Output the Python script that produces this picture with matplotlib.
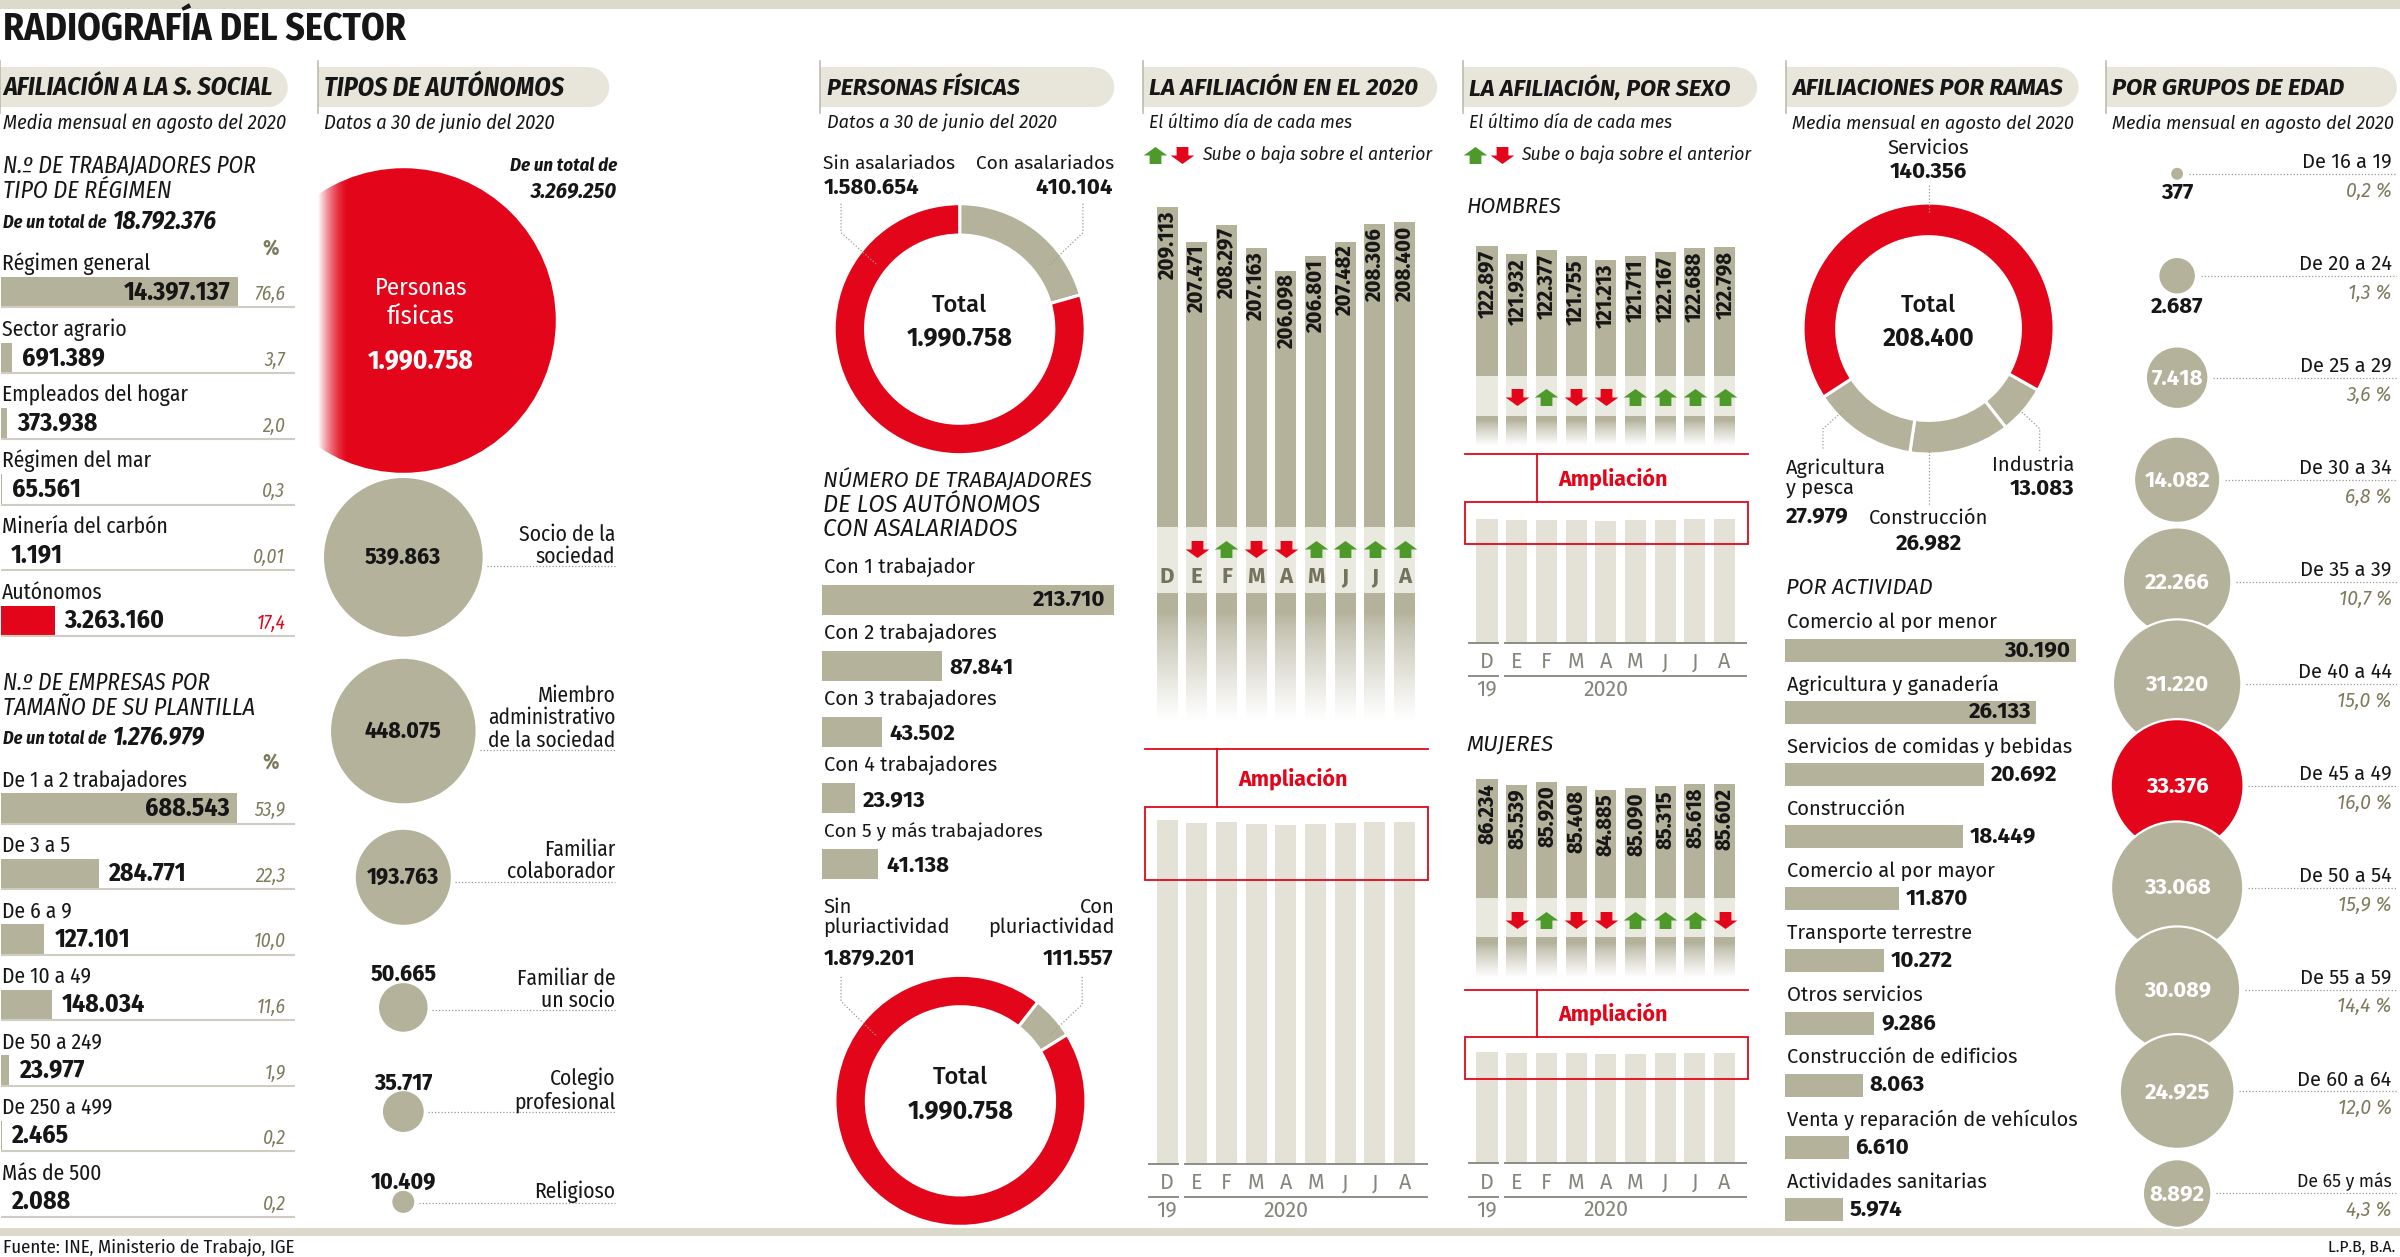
import numpy as np
import matplotlib
matplotlib.use('Agg')
import matplotlib.pyplot as plt
from matplotlib import font_manager
from matplotlib.path import Path
from matplotlib.patches import Rectangle, Circle

# ---------------- datos ----------------
regimen_labels = ['Régimen general', 'Sector agrario', 'Empleados del hogar',
                  'Régimen del mar', 'Minería del carbón', 'Autónomos']
regimen_values = [14397137, 691389, 373938, 65561, 1191, 3263160]
regimen_pct = ['76,6', '3,7', '2,0', '0,3', '0,01', '17,4']
regimen_total = '18.792.376'

plantilla_labels = ['De 1 a 2 trabajadores', 'De 3 a 5', 'De 6 a 9', 'De 10 a 49',
                    'De 50 a 249', 'De 250 a 499', 'Más de 500']
plantilla_values = [688543, 284771, 127101, 148034, 23977, 2465, 2088]
plantilla_pct = ['53,9', '22,3', '10,0', '11,6', '1,9', '0,2', '0,2']
plantilla_total = '1.276.979'

personas_fisicas = 1990758
autonomos_total = '3.269.250'
tipos_labels = ['Socio de la\nsociedad', 'Miembro\nadministrativo\nde la sociedad',
                'Familiar\ncolaborador', 'Familiar de\nun socio', 'Colegio\nprofesional', 'Religioso']
tipos_values = [539863, 448075, 193763, 50665, 35717, 10409]

asalariados_labels = ['Sin asalariados', 'Con asalariados']
asalariados_values = [1580654, 410104]
trabajadores_labels = ['Con 1 trabajador', 'Con 2 trabajadores', 'Con 3 trabajadores',
                       'Con 4 trabajadores', 'Con 5 y más trabajadores']
trabajadores_values = [213710, 87841, 43502, 23913, 41138]
pluri_labels = ['Sin\npluriactividad', 'Con\npluriactividad']
pluri_values = [1879201, 111557]

meses = ['D', 'E', 'F', 'M', 'A', 'M', 'J', 'J', 'A']
afil_total = [209113, 207471, 208297, 207163, 206098, 206801, 207482, 208306, 208400]
afil_hombres = [122897, 121932, 122377, 121755, 121213, 121711, 122167, 122688, 122798]
afil_mujeres = [86234, 85539, 85920, 85408, 84885, 85090, 85315, 85618, 85602]

ramas_labels = ['Industria', 'Construcción', 'Agricultura\ny pesca', 'Servicios']
ramas_values = [13083, 26982, 27979, 140356]
actividad_labels = ['Comercio al por menor', 'Agricultura y ganadería', 'Servicios de comidas y bebidas',
                    'Construcción', 'Comercio al por mayor', 'Transporte terrestre', 'Otros servicios',
                    'Construcción de edificios', 'Venta y reparación de vehículos', 'Actividades sanitarias']
actividad_values = [30190, 26133, 20692, 18449, 11870, 10272, 9286, 8063, 6610, 5974]

edad_labels = ['De 16 a 19', 'De 20 a 24', 'De 25 a 29', 'De 30 a 34', 'De 35 a 39', 'De 40 a 44',
               'De 45 a 49', 'De 50 a 54', 'De 55 a 59', 'De 60 a 64', 'De 65 y más']
edad_values = [377, 2687, 7418, 14082, 22266, 31220, 33376, 33068, 30089, 24925, 8892]
edad_pct = ['0,2 %', '1,3 %', '3,6 %', '6,8 %', '10,7 %', '15,0 %', '16,0 %', '15,9 %',
            '14,4 %', '12,0 %', '4,3 %']

# posiciones de los círculos de tipos (maqueta)
tipos_y = [364, 477.5, 573, 658, 726, 785]
tipos_gap = [6, 12.5, 3, 2, 0.5, 0.5]

# ---------------- estilo ----------------
RED = '#e3061a'
GRAY = '#b5b29c'
LIGHT = '#e4e2d6'
BANDCOL = '#eae9e0'
PILL = '#e8e6db'
BAND = '#dcdacb'
OLIVE = '#7e7b5d'
RULE = '#cfcdc0'
INK = '#161616'
GREEN = '#4d9a2a'
MONTH = '#76735d'
AXGRAY = '#86857c'
DOT = '#9a9a90'

names = {f.name for f in font_manager.fontManager.ttflist}


def pick(*cands):
    for c in cands:
        if c in names:
            return c
    return 'DejaVu Sans'


SANS = pick('Fira Sans', 'Open Sans', 'Lato')
COND = pick('Fira Sans Condensed', 'Encode Sans Semi Condensed', 'Open Sans Condensed', SANS)
plt.rcParams['font.family'] = [SANS, 'DejaVu Sans']
FC = [COND, 'DejaVu Sans']

W, H = 1568, 821          # rejilla de referencia
SX = 2400 / W              # px reales por px de referencia
PT = SX * 0.72             # puntos por px de referencia

fig = plt.figure(figsize=(24, 12.57), dpi=100)
R = fig.canvas.get_renderer()


def box(x, y, w, h, z=1):
    ax = fig.add_axes([x / W, 1 - (y + h) / H, w / W, h / H], zorder=z)
    ax.set_axis_off()
    return ax


def canvas(z):
    ax = box(0, 0, W, H, z)
    ax.set_xlim(0, W)
    ax.set_ylim(H, 0)
    return ax


bg = canvas(0)
top = canvas(10)


def fit(t, width):
    if width:
        w = t.get_window_extent(renderer=R).width / SX
        if w > width:
            t.set_fontsize(t.get_fontsize() * width / w)
    return t


def txt(x, y, s, size, width=None, ax=None, **kw):
    kw.setdefault('va', 'center')
    kw.setdefault('color', INK)
    t = (ax or top).text(x, y, s, fontsize=size, **kw)
    return fit(t, width)


def ann(ax, s, xy, dx=0, dy=0, size=13, width=None, **kw):
    kw.setdefault('va', 'center')
    kw.setdefault('color', INK)
    t = ax.annotate(s, xy, xytext=(dx * PT, -dy * PT), textcoords='offset points',
                    fontsize=size, annotation_clip=False, **kw)
    return fit(t, width)


def fmt(v):
    return f'{v:,}'.replace(',', '.')


def arrow_marker(up=True):
    v = [(-0.5, -0.72), (0.5, -0.72), (0.5, 0), (1, 0), (0, 0.72), (-1, 0), (-0.5, 0), (-0.5, -0.72)]
    if not up:
        v = [(a, -b) for a, b in v]
    return Path(v, [Path.MOVETO] + [Path.LINETO] * 6 + [Path.CLOSEPOLY])


UP, DOWN = arrow_marker(True), arrow_marker(False)
ARROW_S = 17 ** 2

# ---------------- cabecera y pie ----------------
bg.add_patch(Rectangle((0, 0), W, 6, color=BAND, lw=0))
bg.add_patch(Rectangle((0, 802), W, 5, color=BAND, lw=0))
txt(2, 20, 'RADIOGRAFÍA DEL SECTOR', 28, 263, weight='bold', family=FC)
txt(2, 814.5, 'Fuente: INE, Ministerio de Trabajo, IGE', 13.5, 192, family=FC)
txt(1565, 814.5, 'L.P.B, B.A.', 12.5, 46, ha='right', family=FC)

headings = [(0, 188, 'AFILIACIÓN A LA S. SOCIAL', 'Media mensual en agosto del 2020', 176, 185, FC),
            (208, 398, 'TIPOS DE AUTÓNOMOS', 'Datos a 30 de junio del 2020', 157, 151, FC),
            (536, 728, 'PERSONAS FÍSICAS', 'Datos a 30 de junio del 2020', 126, 150, None),
            (747, 939, 'LA AFILIACIÓN EN EL 2020', 'El último día de cada mes', 176, 133, None),
            (956, 1148, 'LA AFILIACIÓN, POR SEXO', 'El último día de cada mes', 171, 133, None),
            (1167, 1358, 'AFILIACIONES POR RAMAS', 'Media mensual en agosto del 2020', 177, 184, None),
            (1376, 1566, 'POR GRUPOS DE EDAD', 'Media mensual en agosto del 2020', 152, 184, None)]
for x0, x1, head, sub, hw, sw, fam in headings:
    bg.add_patch(Rectangle((x0, 44), x1 - x0 - 13, 26, color=PILL, lw=0))
    bg.add_patch(Circle((x1 - 13, 57), 13, color=PILL, lw=0))
    bg.plot([x0, x0], [40, 74], color='#bdbbb0', lw=1.2)
    tx = 2 if x0 == 0 else x0 + 4
    kw = {'family': fam} if fam else {}
    txt(tx, 57.5, head, 19, hw, weight='bold', style='italic', **kw)
    txt(tx, 80.5, sub, 15, sw, style='italic', **kw)

# ---------------- 1. afiliación a la S. Social ----------------


def filas(x, y_first, pitch, labels, values, pct, bar_px):
    n = len(values)
    w = 192
    ax = box(x, y_first - pitch / 2, w, n * pitch, 2)
    vmax = max(values)
    bh = 20 / pitch
    cols = [RED if l == 'Autónomos' else GRAY for l in labels]
    ax.barh(np.arange(n), values, height=bh, color=cols, lw=0)
    ax.set_xlim(0, vmax * w / bar_px)
    ax.set_ylim(n - 0.5, -0.5)
    for i, (l, v, p) in enumerate(zip(labels, values, pct)):
        ax.axhline(i + bh / 2, color=RULE, lw=1.5)
        ann(ax, l, (0, i), dx=1, dy=-18.5, size=15.5, width=150, ha='left', family=FC)
        if v > vmax / 2:
            ann(ax, fmt(v), (v, i), dx=-5, size=18.5, width=70, weight='bold', ha='right', family=FC)
        else:
            ann(ax, fmt(v), (v, i), dx=6.5, size=18.5, width=70, weight='bold', ha='left', family=FC)
        ann(ax, p, ((186.5 - x) / w, i), dy=1.5, xycoords=('axes fraction', 'data'), size=14,
            style='italic', color=RED if l == 'Autónomos' else OLIVE, ha='right', family=FC)
    return ax


HEADKW = dict(style='italic', family=FC)
txt(2, 107.8, 'N.º DE TRABAJADORES POR', 17.5, 165, **HEADKW)
txt(2, 125.2, 'TIPO DE RÉGIMEN', 17.5, 110, **HEADKW)
txt(2, 145.5, 'De un total de', 13, 70, style='italic', weight='bold', family=FC)
txt(73.5, 144.5, regimen_total, 18, 72, style='italic', weight='bold', family=FC)
txt(176.6, 162, '%', 15, color=OLIVE, ha='center', weight='bold', family=FC)
filas(0.5, 190.8, 42.95, regimen_labels, regimen_values, regimen_pct, 155.3)

txt(2, 446.3, 'N.º DE EMPRESAS POR', 17.5, 135, **HEADKW)
txt(2, 462.5, 'TAMAÑO DE SU PLANTILLA', 17.5, 165, **HEADKW)
txt(2, 482.5, 'De un total de', 13, 70, style='italic', weight='bold', family=FC)
txt(73.5, 481.5, plantilla_total, 18, 63, style='italic', weight='bold', family=FC)
txt(176.6, 498, '%', 15, color=OLIVE, ha='center', weight='bold', family=FC)
filas(0.5, 528, 42.8, plantilla_labels, plantilla_values, plantilla_pct, 154.5)

# ---------------- 2. tipos de autónomos ----------------
txt(403, 108.5, 'De un total de', 14, 70, ha='right', style='italic', weight='bold', family=FC)
txt(403, 124.5, autonomos_total, 16, 63, ha='right', style='italic', weight='bold', family=FC)

ta = box(208, 100, 200, 710, 2)
CX = 263.5
kt = (2 * 99.5 * PT) ** 2 / personas_fisicas
ta.scatter([CX], [209], s=[personas_fisicas * kt], color=RED, lw=0, zorder=2)
ta.scatter([CX] * len(tipos_values), tipos_y, s=np.array(tipos_values) * kt, color=GRAY, lw=0, zorder=2)
fade = np.ones((1, 60, 4))
fade[0, :, 3] = np.linspace(1, 0, 60) ** 1.6
ta.imshow(fade, extent=(208, 228, 320, 100), aspect='auto', zorder=3, interpolation='bilinear')
ta.set_xlim(208, 408)
ta.set_ylim(810, 100)
txt(275, 188, 'Personas', 19, 60, color='white', ha='center', family=FC)
txt(275, 207, 'físicas', 19, 60, color='white', ha='center', family=FC)
txt(275, 236, fmt(personas_fisicas), 19.5, 76, color='white', ha='center', weight='bold', family=FC)
for i, (l, v) in enumerate(zip(tipos_labels, tipos_values)):
    r = 99.5 * np.sqrt(v / personas_fisicas)
    cy = tipos_y[i]
    gy = cy + tipos_gap[i]
    ta.plot([CX + r + 3, 402], [gy, gy], color=DOT, lw=0.9, ls=(0, (1, 1.6)), zorder=1)
    txt(402, gy + 0.5, l, 15.5, 84, ha='right', va='bottom', linespacing=1.05, family=FC)
    if r > 25:
        txt(CX, cy, fmt(v), 17, 52, weight='bold', ha='center', family=FC)
    else:
        txt(CX, cy - r + 2, fmt(v), 17, 52, weight='bold', ha='center', va='bottom', family=FC)

# ---------------- 3. personas físicas ----------------


def donut(cx, cy, r, values, colors, start, ring):
    ax = box(cx - r, cy - r, 2 * r, 2 * r, 2)
    ax.pie(values, colors=colors, startangle=start, counterclock=False, radius=1,
           wedgeprops=dict(width=ring, edgecolor='white', linewidth=2.2))
    ax.set_xlim(-1, 1)
    ax.set_ylim(-1, 1)
    return ax


def leader(pts):
    xs, ys = zip(*pts)
    top.plot(xs, ys, color=DOT, lw=0.9, ls=(0, (1, 1.6)))


txt(538, 107, asalariados_labels[0], 14.5, 86, ha='left')
txt(538, 123, fmt(asalariados_values[0]), 16, 64, ha='left', weight='bold')
txt(728, 107, asalariados_labels[1], 14.5, 90, ha='right')
txt(727, 123, fmt(asalariados_values[1]), 16, 52, ha='right', weight='bold')
donut(627, 215, 82, asalariados_values[::-1], [GRAY, RED], 90, 0.25)
leader([(549.5, 133), (549.5, 152), (573, 173)])
leader([(707.5, 133), (707.5, 152), (685.5, 173)])
txt(627, 199.5, 'Total', 17.5, 36, ha='center', weight='medium')
txt(627, 221, fmt(sum(asalariados_values)), 18, 77, ha='center', weight='bold')

txt(538, 314, 'NÚMERO DE TRABAJADORES', 17, 176, style='italic')
txt(538, 330, 'DE LOS AUTÓNOMOS', 17, 176, style='italic')
txt(538, 346, 'CON ASALARIADOS', 17, 176, style='italic')

tb = box(537.3, 392 - 21.55, 192, 5 * 43.1, 2)
tb.barh(np.arange(5), trabajadores_values, height=20 / 43.1, color=GRAY, lw=0)
tb.set_xlim(0, max(trabajadores_values) * 192 / 190.2)
tb.set_ylim(4.5, -0.5)
for i, (l, v) in enumerate(zip(trabajadores_labels, trabajadores_values)):
    ann(tb, l, (0, i), dx=1, dy=-21.5, size=14.5, width=143, ha='left')
    if v == max(trabajadores_values):
        ann(tb, fmt(v), (v, i), dx=-5, size=16, width=52, weight='bold', ha='right')
    else:
        ann(tb, fmt(v), (v, i), dx=5, dy=1, size=16, width=52, weight='bold', ha='left')

txt(538, 599, pluri_labels[0], 14.5, 92, ha='left', linespacing=1.05)
txt(538, 626, fmt(pluri_values[0]), 16, 64, ha='left', weight='bold')
txt(728, 599, pluri_labels[1], 14.5, 92, ha='right', linespacing=1.05, multialignment='right')
txt(727, 626, fmt(pluri_values[1]), 16, 52, ha='right', weight='bold')
donut(627.5, 719, 82, pluri_values[::-1], [GRAY, RED], 52, 0.25)
leader([(549.5, 638), (549.5, 654), (573, 677)])
leader([(707, 638), (707, 656), (685, 677)])
txt(627.5, 703.6, 'Total', 17.5, 36, ha='center', weight='medium')
txt(627.5, 726, fmt(sum(pluri_values)), 18, 77, ha='center', weight='bold')

# ---------------- 4 y 5. afiliación mensual ----------------
XL = (-15.5 / 19.4, (192 - 15.5) / 19.4)
BW = 0.71


def mensual(x, vals, top_rng, ref_top, upp, band, fade_end, arrow_y, low_rng, low_top, ampl,
            letters_y=None, vsize=15):
    idx = np.arange(len(vals))
    y0, y1 = top_rng
    a = box(x, y0, 192, y1 - y0, 2)
    a.bar(idx, vals, width=BW, color=GRAY, lw=0)
    a.set_xlim(*XL)
    a.set_ylim(vals[0] - (y1 - ref_top) * upp, vals[0] + (ref_top - y0) * upp)
    for i, v in enumerate(vals):
        ann(a, fmt(v), (i, v), dy=2.5, size=vsize, weight='bold', rotation=90,
            va='top', ha='center', family=FC)

    b = box(x, y1, 192, fade_end - y1, 2)
    b.bar(idx, band - y1, bottom=y1, width=BW, color=BANDCOL, lw=0)
    b.bar(idx, fade_end - band, bottom=band, width=BW, color=GRAY, lw=0)
    t = np.linspace(0, 1, 80)
    grad = np.ones((80, 1, 4))
    grad[:, 0, 3] = np.clip((t - 0.15) / 0.8, 0, 1) ** 0.8
    b.imshow(grad, extent=(XL[0], XL[1], fade_end, band), aspect='auto', zorder=3,
             interpolation='bilinear')
    b.set_xlim(*XL)
    b.set_ylim(fade_end, y1)
    step = np.sign(np.diff(vals))
    up, dn = idx[1:][step > 0], idx[1:][step < 0]
    b.scatter(up, [arrow_y] * len(up), marker=UP, s=ARROW_S, color=GREEN, lw=0, zorder=4)
    b.scatter(dn, [arrow_y] * len(dn), marker=DOWN, s=ARROW_S, color=RED, lw=0, zorder=4)
    if letters_y:
        for i, m in enumerate(meses):
            b.text(i, letters_y, m, ha='center', va='center', fontsize=16, weight='bold',
                   color=MONTH, zorder=5)

    l0, l1 = low_rng
    c = box(x, l0, 192, l1 - l0, 2)
    c.bar(idx, vals, width=BW, color=LIGHT, lw=0)
    c.set_xlim(*XL)
    c.set_ylim(0, vals[0] * (l1 - l0) / (l1 - low_top))
    h = l1 - l0
    tr = c.get_xaxis_transform()
    for xa, xb in [(-0.63, 0.40), (0.57, 8.77)]:
        for dy in (0, 22):
            c.plot([xa, xb], [-dy / h] * 2, transform=tr, color=AXGRAY, lw=1.3, clip_on=False,
                   solid_capstyle='butt')
    lab = dict(transform=tr, ha='center', va='center', fontsize=15.5, color=AXGRAY)
    for i, m in enumerate(meses):
        c.text(i, -12.8 / h, m, **lab)
    c.text(0, -30.5 / h, '19', **lab)
    c.text(4, -30.5 / h, '2020', **lab)

    ly, r0, r1 = ampl
    top.plot([x + 1, x + 186], [ly, ly], color=RED, lw=1.3)
    top.plot([x + 48, x + 48], [ly, r0], color=RED, lw=1.3)
    top.add_patch(Rectangle((x + 1, r0), 185, r1 - r0, fill=False, ec=RED, lw=1.3))
    txt(x + 98, (ly + r0) / 2, 'Ampliación', 15.5, 72, color=RED, weight='bold', ha='center')


for lx in (747, 956):
    top.scatter([lx + 7.5], [101.5], marker=UP, s=ARROW_S, color=GREEN, lw=0)
    top.scatter([lx + 25], [101.5], marker=DOWN, s=ARROW_S, color=RED, lw=0)
    txt(lx + 38, 101, 'Sube o baja sobre el anterior', 14, 150, style='italic')

mensual(747, afil_total, (130, 344), 135.5, 73, 387, 474, 358.7, (530, 760), 535.8,
        (489.5, 527, 574.7), letters_y=377, vsize=16)
txt(958, 135, 'HOMBRES', 16, 62, style='italic')
mensual(956, afil_hombres, (156, 245.3), 160.8, 185, 272, 292, 259.5, (334, 419.7), 339,
        (296.8, 328, 355), vsize=16)
txt(958, 486.4, 'MUJERES', 16, 62, style='italic')
mensual(956, afil_mujeres, (504, 586.4), 509, 198, 612, 640, 601, (682, 759.8), 687.2,
        (646.4, 677.6, 705), vsize=16)

# ---------------- 6. afiliaciones por ramas ----------------
donut(1260, 214.6, 82, ramas_values, [GRAY, GRAY, GRAY, RED], -29.4, 0.268)
txt(1260, 97, 'Servicios', 14.5, 62, ha='center')
txt(1260, 112, fmt(ramas_values[3]), 16, 62, ha='center', weight='bold')
txt(1260, 199.5, 'Total', 17.5, 36, ha='center', weight='medium')
txt(1260, 221.4, fmt(sum(ramas_values)), 18, 77, ha='center', weight='bold')
txt(1167, 312.5, ramas_labels[2], 14.5, 95, ha='left', linespacing=1.0)
txt(1167, 337.3, fmt(ramas_values[2]), 16, 52, ha='left', weight='bold')
txt(1260, 338.6, ramas_labels[1], 14.5, 90, ha='center')
txt(1260, 354.6, fmt(ramas_values[1]), 16, 52, ha='center', weight='bold')
txt(1355, 304, ramas_labels[0], 14.5, 62, ha='right')
txt(1355, 319.5, fmt(ramas_values[0]), 16, 52, ha='right', weight='bold')
leader([(1260, 121), (1260, 140)])
leader([(1191, 293), (1191, 280), (1204.6, 268)])
leader([(1260, 294.6), (1260, 330)])
leader([(1332.6, 294.6), (1332.6, 280), (1320.8, 269)])

txt(1167, 384, 'POR ACTIVIDAD', 17, 96, style='italic')
ab = box(1166.3, 424.6 - 20.3, 192, 10 * 40.6, 2)
ab.barh(np.arange(10), actividad_values, height=15 / 40.6, color=GRAY, lw=0)
ab.set_xlim(0, max(actividad_values) * 192 / 189.7)
ab.set_ylim(9.5, -0.5)
for i, (l, v) in enumerate(zip(actividad_labels, actividad_values)):
    ann(ab, l, (0, i), dx=1, dy=-18, size=14.5, width=190, ha='left')
    if v > 0.8 * max(actividad_values):
        ann(ab, fmt(v), (v, i), dx=-3.5, size=16, width=44, weight='bold', ha='right')
    else:
        ann(ab, fmt(v), (v, i), dx=4.5, size=16, width=44, weight='bold', ha='left')

# ---------------- 7. por grupos de edad ----------------
eb = box(1376, 113.5 - 33.3, 190, 11 * 66.6, 3)
BX = 46.4
vmax = max(edad_values)
kb = (2 * 43.4 * PT) ** 2 / vmax
cols = [RED if v == vmax else GRAY for v in edad_values]
eb.scatter([BX] * len(edad_values), np.arange(len(edad_values)), s=np.array(edad_values) * kb,
           c=cols, edgecolors='white', linewidths=1.6, zorder=3)
eb.set_xlim(0, 190)
eb.set_ylim(len(edad_values) - 0.5, -0.5)
for i, (l, v, p) in enumerate(zip(edad_labels, edad_values, edad_pct)):
    r = 43.4 * np.sqrt(v / vmax)
    eb.plot([BX + r + 3, 190], [i, i], color=DOT, lw=0.9, ls=(0, (1, 1.6)), zorder=1)
    ann(eb, l, (186.6, i), dy=-7.5, size=14.5, width=62, ha='right')
    ann(eb, p, (186.6, i), dy=11.3, size=14, width=40, ha='right', style='italic', color=OLIVE)
    if r > 15:
        ann(eb, fmt(v), (BX, i), dy=0.5, size=16, width=44, weight='bold', ha='center',
            color='white', zorder=4)
    else:
        ann(eb, fmt(v), (BX, i), dy=r + 8, size=16, width=44, weight='bold', ha='center')

fig.savefig('out.png', dpi=100)
